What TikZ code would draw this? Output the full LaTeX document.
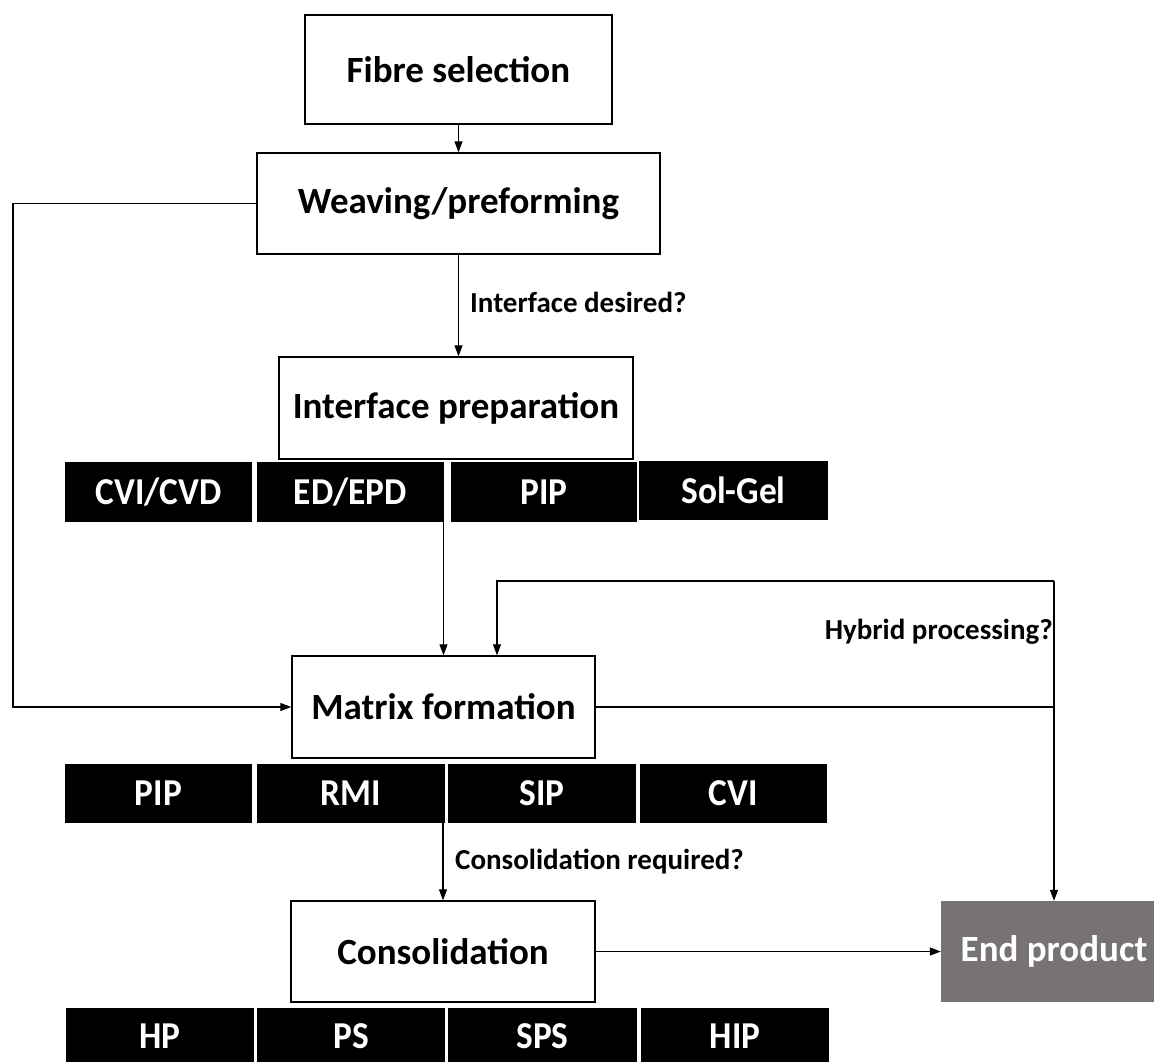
\documentclass[tikz,border=0pt]{standalone}
\usepackage{fontspec}
\setmainfont{Carlito}
\newfontfamily\barfont[FakeStretch=0.93]{Carlito}
\usetikzlibrary{arrows.meta}
\definecolor{endgray}{HTML}{787373}
\begin{document}
\begin{tikzpicture}[x=1pt,y=-1pt,
  box/.style={draw=black,line width=1.4pt,fill=white,inner sep=0pt,
    font=\fontsize{37}{42}\selectfont\bfseries},
  bar/.style={fill=black,text=white,inner sep=0pt,
    font=\barfont\fontsize{38}{42}\selectfont\bfseries},
  lbl/.style={inner sep=0pt,font=\fontsize{29}{33}\selectfont\bfseries},
  conn/.style={line width=1.2pt},
  arr/.style={conn,-{Triangle[length=11pt,width=8pt]}}]
\useasboundingbox (0,0) rectangle (1154,1061);
\fill[white] (0,0) rectangle (1154,1061);
% main boxes
\node[box,minimum width=307pt,minimum height=109pt] (fibre) at (458.5,69.5) {Fibre selection};
\node[box,minimum width=403pt,minimum height=101pt] (weave) at (458.5,203.5) {Weaving/preforming};
\node[box,minimum width=354pt,minimum height=102pt] (inter) at (456,408) {Interface preparation};
\node[box,minimum width=303pt,minimum height=102pt] (matrix) at (443.5,707) {Matrix formation};
\node[box,minimum width=304pt,minimum height=101pt] (consol) at (443,951.5) {Consolidation};
\node[draw=none,fill=endgray,text=white,inner sep=0pt,minimum width=226pt,minimum height=101pt,
  font=\fontsize{37}{42}\selectfont\bfseries] (end) at (1054,951.5) {End product};
% bars row 1
\node[bar,minimum width=187pt,minimum height=60pt] (b11) at (158.5,492) {CVI/CVD};
\node[bar,minimum width=187pt,minimum height=60pt] (b12) at (350.5,492) {ED/EPD};
\node[bar,minimum width=186pt,minimum height=60pt] (b13) at (544,492) {PIP};
\node[bar,minimum width=189pt,minimum height=59pt] (b14) at (733.5,490.5) {Sol-Gel};
% bars row 2
\node[bar,minimum width=187pt,minimum height=59pt] (b21) at (158.5,793.5) {PIP};
\node[bar,minimum width=188pt,minimum height=59pt] (b22) at (351,793.5) {RMI};
\node[bar,minimum width=188pt,minimum height=59pt] (b23) at (542,793.5) {SIP};
\node[bar,minimum width=187pt,minimum height=59pt] (b24) at (733.5,793.5) {CVI};
% bars row 3
\node[bar,minimum width=188pt,minimum height=56pt] (b31) at (160,1036) {HP};
\node[bar,minimum width=188pt,minimum height=56pt] (b32) at (351,1036) {PS};
\node[bar,minimum width=189pt,minimum height=56pt] (b33) at (542.5,1036) {SPS};
\node[bar,minimum width=188pt,minimum height=56pt] (b34) at (735,1036) {HIP};
% labels
\node[lbl,anchor=west] (lint) at (470,302) {Interface desired?};
\node[lbl,anchor=east] (lhyb) at (1053,632) {Hybrid processing?};
\node[lbl,anchor=west] (lcon) at (455,862) {Consolidation required?};
% helper coordinates
\coordinate (wl) at (13,203.5);
\coordinate (ml) at (13,707);
\coordinate (top) at (1054,581);
\coordinate (fb) at (497,581);
% connectors
\draw[arr] (fibre.south) -- (weave.north);
\draw[arr] (weave.south) -- (weave.south |- inter.north);
\draw[arr] (weave.west) -- (wl) -- (ml) -- (matrix.west);
\draw[arr] (matrix.north |- b12.south) -- (matrix.north);
\draw[conn] (matrix.east) -- (matrix.east -| end.north);
\draw[arr] (top) -- (end.north);
\draw[arr] (top) -- (fb) -- (fb |- matrix.north);
\draw[arr] (consol.north |- b22.south) -- (consol.north);
\draw[arr] (consol.east) -- (end.west);
\end{tikzpicture}
\end{document}
